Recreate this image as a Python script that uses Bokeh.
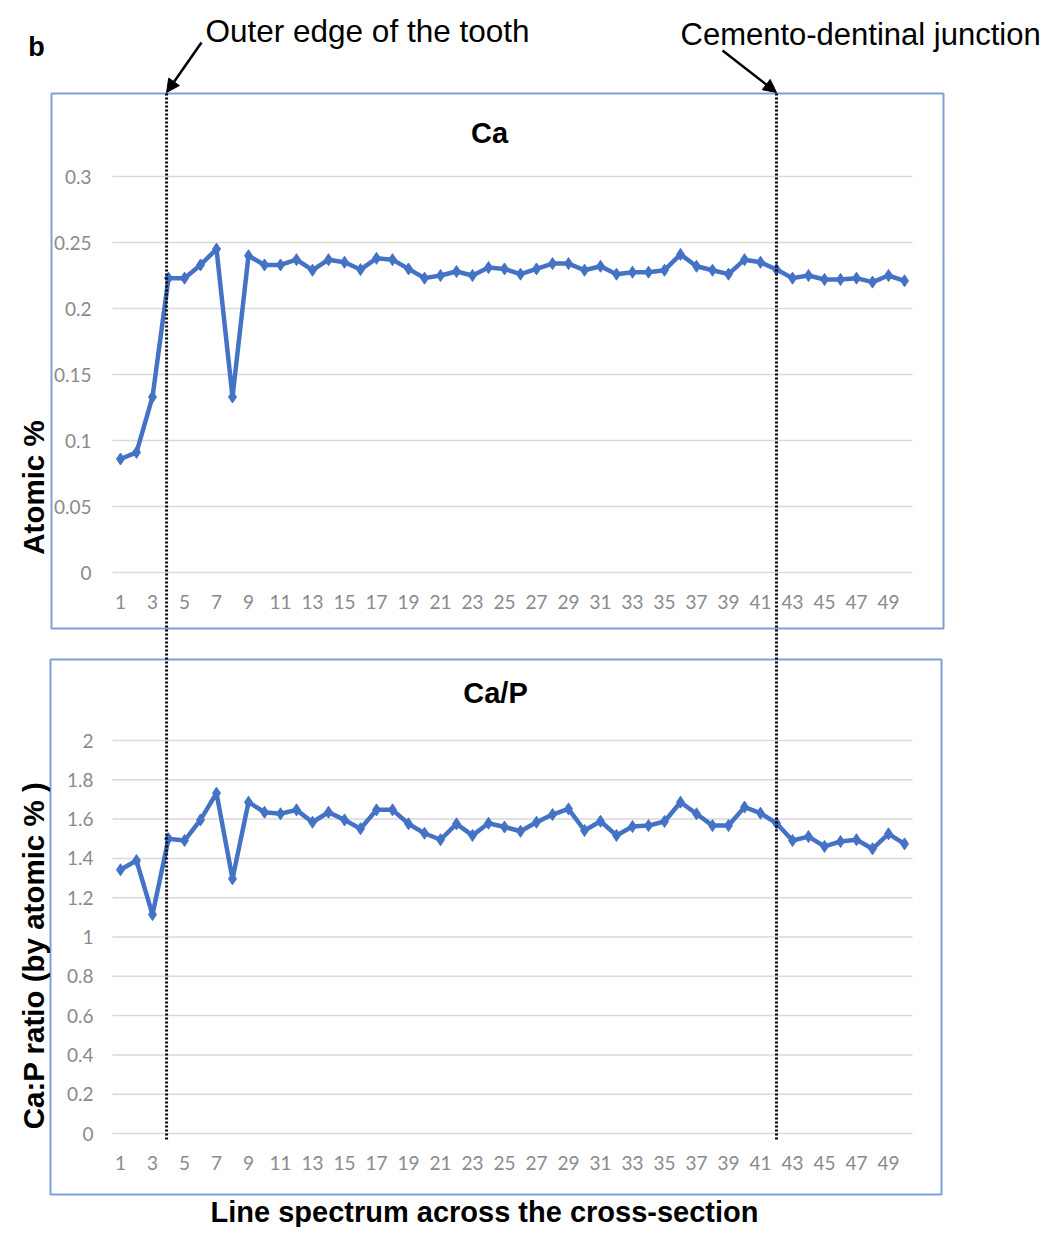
import math
from bokeh.plotting import figure
from bokeh.models import Range1d, Arrow, NormalHead
from bokeh.core.properties import value
from bokeh.embed import file_html
from bokeh.resources import INLINE

# ---------------- data ----------------
positions = list(range(1, 51))
ca_atomic = [0.086, 0.091, 0.133, 0.223, 0.223, 0.233, 0.245, 0.133, 0.240, 0.233,
             0.233, 0.237, 0.229, 0.237, 0.235, 0.2295, 0.238, 0.237, 0.230, 0.223,
             0.225, 0.228, 0.225, 0.231, 0.230, 0.226, 0.230, 0.234, 0.234, 0.229,
             0.232, 0.226, 0.2275, 0.2275, 0.229, 0.241, 0.232, 0.229, 0.226, 0.237,
             0.235, 0.2295, 0.223, 0.225, 0.222, 0.222, 0.223, 0.220, 0.225, 0.221]
ca_p_ratio = [1.342, 1.389, 1.114, 1.500, 1.491, 1.596, 1.732, 1.296, 1.686, 1.635,
              1.627, 1.647, 1.584, 1.635, 1.596, 1.551, 1.647, 1.647, 1.576, 1.528,
              1.495, 1.576, 1.517, 1.579, 1.560, 1.538, 1.584, 1.623, 1.652, 1.542,
              1.589, 1.517, 1.562, 1.567, 1.588, 1.686, 1.627, 1.567, 1.567, 1.661,
              1.630, 1.579, 1.491, 1.511, 1.461, 1.486, 1.495, 1.449, 1.525, 1.474]
x_tick_values = list(range(1, 51, 2))
x_tick_labels = [str(v) for v in x_tick_values]
ca_ticks = [0, 0.05, 0.1, 0.15, 0.2, 0.25, 0.3]
ca_tick_labels = ["0", "0.05", "0.1", "0.15", "0.2", "0.25", "0.3"]
cap_ticks = [0, 0.2, 0.4, 0.6, 0.8, 1.0, 1.2, 1.4, 1.6, 1.8, 2.0]
cap_tick_labels = ["0", "0.2", "0.4", "0.6", "0.8", "1", "1.2", "1.4", "1.6", "1.8", "2"]
outer_edge_pos = 3.88
cdj_pos = 42.0

# ---------------- layout constants (image pixels) ----------------
W, H = 1044, 1227
PLOT_L, PLOT_R = 112, 912          # x of category 0.5 and 50.5
TOP_Y0, TOP_Y1 = 572, 176          # pixel of 0 and 0.3
BOT_Y0, BOT_Y1 = 1133, 740         # pixel of 0 and 2

BLUE = "#4472C4"
BOX = "#7f9fd8"
GRID = "#d9d9d9"
TICK = "#8a8a8a"
FONT = value("Liberation Sans")
TFONT = value("Lato")


def lin_range(px_a, v_a, px_b, v_b, lo_px, hi_px):
    k = (v_b - v_a) / (px_b - px_a)
    return Range1d(start=v_a + (lo_px - px_a) * k, end=v_a + (hi_px - px_a) * k)


def cat_px(v):
    return PLOT_L + (v - 0.5) * (PLOT_R - PLOT_L) / 50.0


p = figure(width=W, height=H, output_backend="svg", toolbar_location=None,
           x_range=Range1d(0, W), y_range=Range1d(H, 0),
           x_axis_type=None, y_axis_type=None, min_border=0,
           outline_line_color=None, background_fill_color="white",
           border_fill_color="white")
p.extra_x_ranges = {"cat": lin_range(PLOT_L, 0.5, PLOT_R, 50.5, 0, W)}
p.extra_y_ranges = {
    "ca": lin_range(TOP_Y0, 0.0, TOP_Y1, 0.3, H, 0),
    "cap": lin_range(BOT_Y0, 0.0, BOT_Y1, 2.0, H, 0),
}

# chart boxes
p.quad(left=[51, 50], right=[943, 941], top=[93, 659], bottom=[628, 1194],
       fill_color=None, line_color=BOX, line_width=2)

# gridlines
for name, ticks in (("ca", ca_ticks), ("cap", cap_ticks)):
    p.segment(x0=[0.5] * len(ticks), x1=[50.5] * len(ticks), y0=ticks, y1=ticks,
              x_range_name="cat", y_range_name=name, line_color=GRID, line_width=1.5)

# y tick labels
p.text(x=[91] * len(ca_ticks), y=ca_ticks, text=ca_tick_labels, y_range_name="ca",
       text_font=TFONT, text_font_size="19px", text_color=TICK,
       text_align="right", text_baseline="middle")
p.text(x=[93] * len(cap_ticks), y=cap_ticks, text=cap_tick_labels, y_range_name="cap",
       text_font=TFONT, text_font_size="19px", text_color=TICK,
       text_align="right", text_baseline="middle")

# x tick labels
for ypix in (601, 1162):
    p.text(x=x_tick_values, y=[ypix] * len(x_tick_values), text=x_tick_labels,
           x_range_name="cat", text_font=TFONT, text_font_size="19px", text_color=TICK,
           text_align="center", text_baseline="middle")

# data series
p.line(positions, ca_atomic, x_range_name="cat", y_range_name="ca",
       line_color=BLUE, line_width=4.5, line_join="round")
p.scatter(positions, ca_atomic, x_range_name="cat", y_range_name="ca",
          marker="diamond", size=12, fill_color=BLUE, line_color=BLUE)
p.line(positions, ca_p_ratio, x_range_name="cat", y_range_name="cap",
       line_color=BLUE, line_width=4.5, line_join="round")
p.scatter(positions, ca_p_ratio, x_range_name="cat", y_range_name="cap",
          marker="diamond", size=12, fill_color=BLUE, line_color=BLUE)

# dotted boundary lines
p.segment(x0=[outer_edge_pos, cdj_pos], x1=[outer_edge_pos, cdj_pos],
          y0=[93, 93], y1=[1140, 1140], x_range_name="cat",
          line_color="black", line_width=3, line_dash="2 2")

# arrows
p.add_layout(Arrow(end=NormalHead(size=13, fill_color="black", line_color="black"),
                   x_start=201, y_start=42, x_end=cat_px(outer_edge_pos), y_end=92,
                   line_color="black", line_width=2.5))
p.add_layout(Arrow(end=NormalHead(size=13, fill_color="black", line_color="black"),
                   x_start=722, y_start=50, x_end=cat_px(cdj_pos), y_end=92,
                   line_color="black", line_width=2.5))

# texts
p.text(x=[36], y=[46], text=["b"], text_font=FONT, text_font_style="bold",
       text_font_size="27px", text_align="center", text_baseline="middle")
p.text(x=[205], y=[30], text=["Outer edge of the tooth"], text_font=FONT,
       text_font_size="31.5px", text_align="left", text_baseline="middle")
p.text(x=[680], y=[34], text=["Cemento-dentinal junction"], text_font=FONT,
       text_font_size="31px", text_align="left", text_baseline="middle")
p.text(x=[489, 495], y=[132, 692], text=["Ca", "Ca/P"], text_font=FONT,
       text_font_style="bold", text_font_size="29px", text_align="center",
       text_baseline="middle")
p.text(x=[33, 33], y=[487, 955], text=["Atomic %", "Ca:P ratio (by atomic % )"],
       angle=math.pi / 2, text_font=FONT, text_font_style="bold",
       text_font_size="29.5px", text_align="center", text_baseline="middle")
p.text(x=[484], y=[1211], text=["Line spectrum across the cross-section"],
       text_font=FONT, text_font_style="bold", text_font_size="29px",
       text_align="center", text_baseline="middle")

open("out.html", "w").write(file_html(p, INLINE))
